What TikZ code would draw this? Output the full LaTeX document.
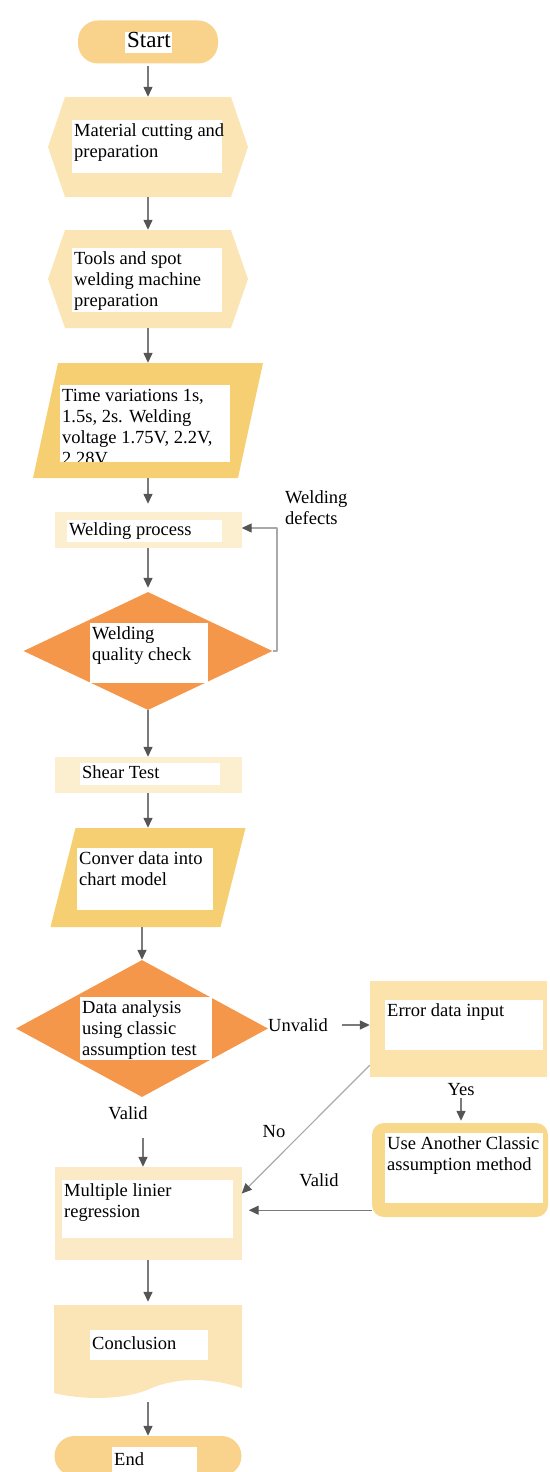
\documentclass[tikz,border=0pt]{standalone}
\usepackage{fontspec}
\setmainfont{Liberation Serif}
\usetikzlibrary{arrows.meta,shapes.geometric}

\definecolor{termfill}{HTML}{F9D38B}
\definecolor{hexfill}{HTML}{FBE5B4}
\definecolor{iofill}{HTML}{F6CF72}
\definecolor{procfill}{HTML}{FBEFD0}
\definecolor{decfill}{HTML}{F5974A}
\definecolor{errfill}{HTML}{FBE3AB}
\definecolor{altfill}{HTML}{F8D88B}
\definecolor{regfill}{HTML}{FBEAC5}
\definecolor{docfill}{HTML}{FBE4B6}
\definecolor{linegray}{HTML}{7A7A7A}
\definecolor{lightgray}{HTML}{A9A9A9}
\definecolor{tipgray}{HTML}{555555}

\newcommand{\fs}{\fontsize{18.5}{21}\selectfont}
\newcommand{\wtext}[4][t]{\parbox[c][#3pt][#1]{#2pt}{\begin{tabular}{@{}l@{}}#4\end{tabular}}}

\begin{document}
\begin{tikzpicture}[x=1pt, y=-1pt, font=\fs, line join=round,
  term/.style={rectangle, rounded corners=20pt, fill=termfill, inner sep=0pt},
  hexa/.style={rectangle, inner sep=0pt, path picture={
    \fill[hexfill] ([xshift=17pt]path picture bounding box.north west)
      -- ([xshift=-17pt]path picture bounding box.north east)
      -- (path picture bounding box.east)
      -- ([xshift=-17pt]path picture bounding box.south east)
      -- ([xshift=17pt]path picture bounding box.south west)
      -- (path picture bounding box.west) -- cycle;}},
  io/.style={rectangle, inner sep=0pt, path picture={
    \fill[iofill] ([xshift=25pt]path picture bounding box.north west)
      -- (path picture bounding box.north east)
      -- ([xshift=-25pt]path picture bounding box.south east)
      -- (path picture bounding box.south west) -- cycle;}},
  proc/.style={rectangle, fill=procfill, inner sep=0pt},
  dec/.style={diamond, fill=decfill, inner sep=0pt},
  errbox/.style={rectangle, fill=errfill, inner sep=0pt},
  altbox/.style={rectangle, rounded corners=12pt, fill=altfill, inner sep=0pt},
  regbox/.style={rectangle, fill=regfill, inner sep=0pt},
  doc/.style={rectangle, inner sep=0pt, path picture={
    \fill[docfill] (path picture bounding box.north west)
      -- (path picture bounding box.north east)
      -- ([yshift=12pt]path picture bounding box.south east)
      .. controls ([xshift=-30pt,yshift=22pt]path picture bounding box.south east)
      and ([xshift=-65pt,yshift=24pt]path picture bounding box.south east)
      .. ([xshift=-95pt,yshift=10pt]path picture bounding box.south east)
      .. controls ([xshift=-120pt]path picture bounding box.south east)
      and ([xshift=-160pt]path picture bounding box.south east)
      .. ([yshift=7pt]path picture bounding box.south west) -- cycle;}},
  wbox/.style={fill=white, anchor=north west, inner xsep=2pt, inner ysep=2pt},
  lab/.style={inner sep=2pt},
  arr/.style={draw=linegray, line width=1.4pt, -{Triangle[length=10pt,width=9pt,color=tipgray]}},
  thin/.style={draw=lightgray, line width=1.2pt, -{Triangle[length=10pt,width=9pt,color=tipgray]}}
]
  \useasboundingbox (0,0) rectangle (549,1472);

  \node[term, minimum width=140pt, minimum height=43pt] (start) at (148,42) {};
  \node[hexa, minimum width=200pt, minimum height=100pt] (cut) at (148,147) {};
  \node[hexa, minimum width=200pt, minimum height=98pt] (tools) at (148,279) {};
  \node[io, minimum width=230pt, minimum height=115pt] (times) at (148,420.5) {};
  \node[proc, minimum width=187pt, minimum height=36pt] (weld) at (148,530) {};
  \node[dec, minimum width=249pt, minimum height=118pt] (check) at (148,651) {};
  \node[proc, minimum width=187pt, minimum height=36pt] (shear) at (148,775) {};
  \node[io, minimum width=195pt, minimum height=99pt] (conv) at (148,877.5) {};
  \node[dec, minimum width=252pt, minimum height=137pt] (anal) at (142,1028.5) {};
  \node[errbox, minimum width=177pt, minimum height=96pt] (error) at (458.5,1029) {};
  \node[altbox, minimum width=176pt, minimum height=94pt] (alt) at (460,1170) {};
  \node[regbox, minimum width=187pt, minimum height=93pt] (multi) at (148,1213.5) {};
  \node[doc, minimum width=188pt, minimum height=95pt] (concl) at (148,1352.5) {};
  \node[term, minimum width=187pt, minimum height=40pt] (stop) at (148,1456) {};

  \node[wbox, font=\fontsize{23}{26}\selectfont] (start-t) at (125,32) {\wtext[c]{43}{17}{Start}};
  \node[wbox] (cut-t) at (72,120) {\wtext{146}{49}{Material cutting and\\preparation}};
  \node[wbox] (tools-t) at (72,248) {\wtext{146}{60}{Tools and spot\\welding machine\\preparation}};
  \begin{scope}
    \clip (60,385) rectangle (230,461);
    \node[wbox] (times-t) at (60,385) {\wtext{166}{78}{Time variations 1s,\\1.5s, 2s. Welding\\voltage 1.75V, 2.2V,\\2.28V}};
  \end{scope}
  \node[wbox] (weld-t) at (67,520) {\wtext[c]{151}{18}{Welding process}};
  \node[wbox] (check-t) at (90,623) {\wtext{114}{56}{Welding\\quality check}};
  \node[wbox] (shear-t) at (80,763) {\wtext[c]{136}{18}{Shear Test}};
  \node[wbox] (conv-t) at (77,848) {\wtext{132}{58}{Conver data into\\chart model}};
  \node[wbox] (anal-t) at (80,997) {\wtext{128}{59}{Data analysis\\using classic\\assumption test}};
  \node[wbox] (error-t) at (385,1000) {\wtext{154}{46}{Error data input}};
  \node[wbox] (alt-t) at (385,1133) {\wtext{154}{66}{Use Another Classic\\assumption method}};
  \node[wbox] (multi-t) at (62,1180) {\wtext{167}{54}{Multiple linier\\regression}};
  \node[wbox] (concl-t) at (90,1330) {\wtext[c]{114}{26}{Conclusion}};
  \node[wbox] (stop-t) at (112,1447) {\wtext[c]{81}{24}{End}};

  \node[lab, anchor=west, align=left] (defects-l) at (283,508) {Welding\\defects};
  \node[lab] (unvalid-l) at (298,1025) {Unvalid};
  \node[lab] (valid-l) at (128,1113) {Valid};
  \node[lab] (yes-l) at (461,1090) {Yes};
  \node[lab] (no-l) at (274,1132) {No};
  \node[lab] (valid2-l) at (319,1180) {Valid};

  \coordinate (loop-top) at (277,528);
  \coordinate (v-in) at (143,1138);
  \coordinate (alt-out) at ([yshift=7pt]alt.south west);

  \draw[arr, shorten <=2pt] (start) -- (cut);
  \draw[arr] (cut) -- (tools);
  \draw[arr] (tools) -- (times);
  \draw[arr, shorten >=8pt] (times) -- (weld);
  \draw[arr, shorten >=4pt] (weld) -- (check);
  \draw[thin] (check.east) -| (loop-top) -- (loop-top -| weld.east);
  \draw[arr] (check) -- (shear);
  \draw[arr] (shear) -- (conv);
  \draw[arr] (conv.south -| anal.north) -- (anal.north);
  \draw[arr, shorten <=12pt] (unvalid-l) -- (unvalid-l -| error.west);
  \draw[arr] (v-in) -- (v-in |- multi.north);
  \draw[arr, shorten >=2pt] (yes-l) -- (yes-l |- alt.north);
  \draw[thin] ([yshift=12pt]error.south west) -- ([yshift=20pt]multi.east);
  \draw[arr, shorten >=7pt] (alt-out) -- (alt-out -| multi.east);
  \draw[arr, shorten >=3pt] (multi) -- (concl);
  \draw[arr, shorten <=2pt] (concl) -- (stop);
\end{tikzpicture}
\end{document}
